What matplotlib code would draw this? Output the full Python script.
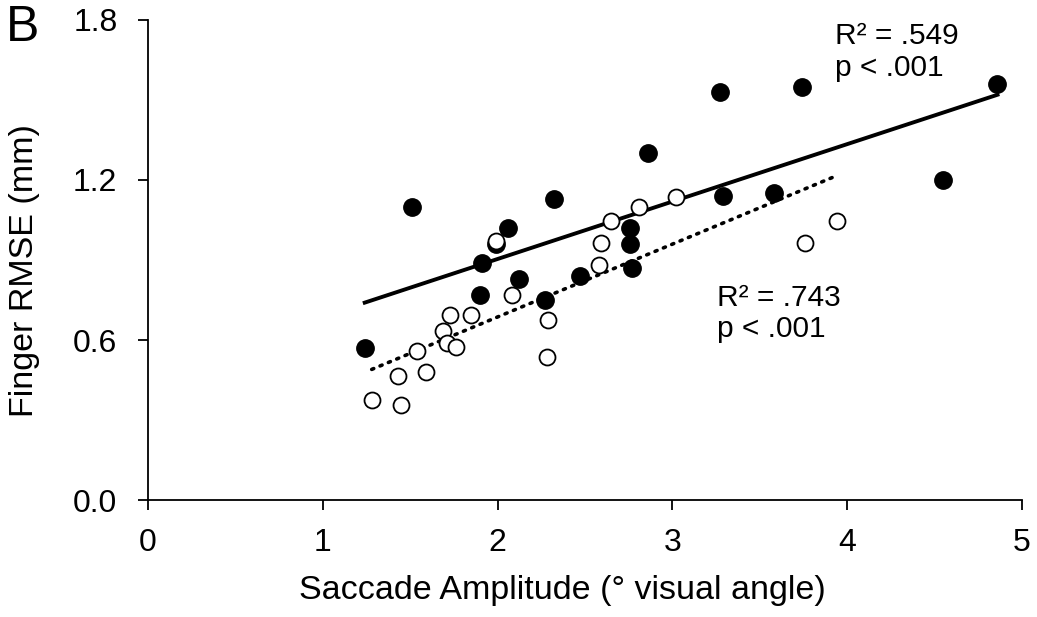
import numpy as np
import matplotlib
matplotlib.use('Agg')
import matplotlib.pyplot as plt

plt.rcParams['font.family'] = ['Liberation Sans', 'DejaVu Sans']

# datos (amplitud en grados, RMSE en mm)
llenos_x = [1.24, 1.51, 1.90, 1.91, 1.99, 2.06, 2.12, 2.27, 2.32, 2.47, 2.76, 2.76, 2.77,
            2.86, 3.27, 3.29, 3.58, 3.74, 4.55, 4.86]
llenos_y = [0.57, 1.10, 0.77, 0.89, 0.96, 1.02, 0.83, 0.75, 1.13, 0.84, 1.02, 0.96, 0.87,
            1.30, 1.53, 1.14, 1.15, 1.55, 1.20, 1.56]

vacios_x = [1.28, 1.43, 1.45, 1.54, 1.59, 1.69, 1.71, 1.73, 1.76, 1.85, 1.99, 2.08, 2.28,
            2.29, 2.58, 2.59, 2.65, 2.81, 3.02, 3.76, 3.94]
vacios_y = [0.375, 0.465, 0.355, 0.56, 0.48, 0.635, 0.59, 0.695, 0.575, 0.695, 0.97, 0.77,
            0.535, 0.675, 0.88, 0.965, 1.045, 1.10, 1.135, 0.965, 1.047]

fig = plt.figure(figsize=(10.37, 6.17), dpi=100)
ax = fig.add_axes([0.1427, 0.1896, 0.8428, 0.778])

ax.plot(llenos_x, llenos_y, 'o', ms=12.5, color='black', zorder=3)
ax.plot(vacios_x, vacios_y, 'o', ms=11.5, mfc='white', mec='black', mew=1.3, zorder=4)

# rectas de regresion
p1 = np.polyfit(llenos_x, llenos_y, 1)
x1 = np.array([min(llenos_x), max(llenos_x)])
ax.plot(x1, np.polyval(p1, x1), color='black', lw=2.8, zorder=2)

p2 = np.polyfit(vacios_x, vacios_y, 1)
x2 = np.array([min(vacios_x), 3.92])
ax.plot(x2, np.polyval(p2, x2), color='black', lw=2.6, ls=(0, (0.6, 1.9)),
        dash_capstyle='round', zorder=2)

ax.text(3.93, 1.68, 'R² = .549\np < .001', fontsize=21.5, va='center', linespacing=1.15)
ax.text(3.255, 0.70, 'R² = .743\np < .001', fontsize=21.5, va='center', linespacing=1.15)

ax.set_xlim(0, 5)
ax.set_ylim(0, 1.8)
ax.set_xticks([0, 1, 2, 3, 4, 5])
ax.set_yticks([0.0, 0.6, 1.2, 1.8])
ax.set_yticklabels(['0.0', '0.6', '1.2', '1.8'])
ax.tick_params(direction='out', length=7.5, width=1.3, labelsize=23)
ax.tick_params(axis='x', pad=13)
ax.tick_params(axis='y', pad=14.5)
for s in ['top', 'right']:
    ax.spines[s].set_visible(False)
for s in ['left', 'bottom']:
    ax.spines[s].set_linewidth(1.3)

ax.set_xlabel('Saccade Amplitude (° visual angle)', fontsize=24.5)
ax.set_ylabel('Finger RMSE (mm)', fontsize=24.5)
ax.xaxis.set_label_coords(0.4737, -0.157)
ax.yaxis.set_label_coords(-0.1236, 0.477)
fig.text(0.006, 0.954, 'B', fontsize=36, va='center')

fig.savefig('out.png', dpi=100)
